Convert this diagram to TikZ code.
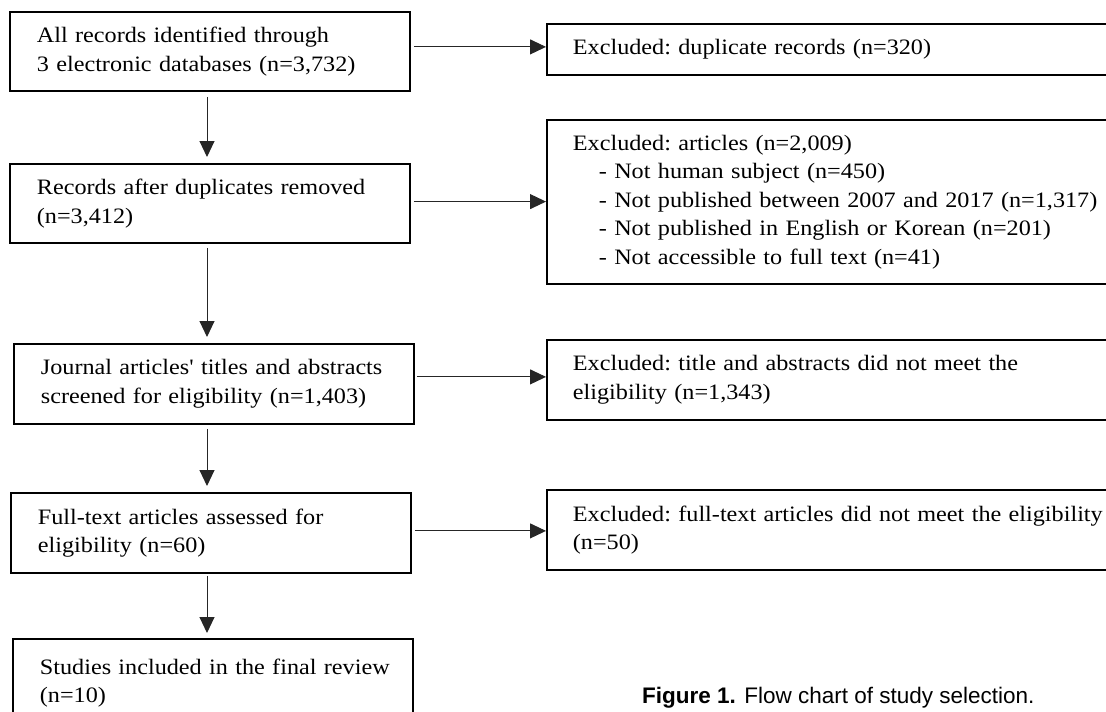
\documentclass[tikz,border=0pt]{standalone}
\usepackage{fontspec}
\setmainfont{Liberation Serif}[FakeStretch=1.1,Ligatures=TeXOff]
\newfontfamily\capfont{Liberation Sans}
\usetikzlibrary{arrows.meta,calc}
\newcommand\oneline[1]{\mbox{#1}}
\begin{document}
\begin{tikzpicture}[x=1pt,y=-1pt,
  box/.style={draw=black, line width=1.8pt, anchor=north west, align=left,
    inner xsep=27pt, inner ysep=0pt, font=\fontsize{22}{28.5}\selectfont\frenchspacing},
  lbox/.style={box, text width=346pt},
  rbox/.style={box, inner xsep=26pt, text width=560pt},
  arr/.style={draw=black!85, line width=1pt, -{Triangle[length=16pt,width=15pt]}},
  capt/.style={anchor=base west, inner sep=0pt, font=\capfont\fontsize{22.5}{27}\selectfont}]
\useasboundingbox (0,0) rectangle (1106,712);
\clip (0,0) rectangle (1106,712);
\coordinate (col) at (207,0);
% left column
\node[lbox, minimum height=79pt] (b1) at (9,11) {\oneline{All records identified through}\\\oneline{3 electronic databases (n=3,732)}};
\node[lbox, minimum height=79pt] (b2) at (9,163) {\oneline{Records after duplicates removed}\\\oneline{(n=3,412)}};
\node[lbox, minimum height=80pt] (b3) at (13,343) {\oneline{Journal articles' titles and abstracts}\\\oneline{screened for eligibility (n=1,403)}};
\node[lbox, minimum height=80pt] (b4) at (10,492) {\oneline{Full-text articles assessed for}\\\oneline{eligibility (n=60)}};
\node[lbox, minimum height=88pt] (b5) at (12,638) {\oneline{Studies included in the final review}\\\oneline{(n=10)}};
% right column
\node[rbox, minimum height=51pt] (r1) at (546,23) {\oneline{Excluded: duplicate records (n=320)}};
\node[rbox, minimum height=164pt] (r2) at (546,119) {\oneline{Excluded: articles (n=2,009)}\\
\oneline{\hspace*{26pt}- Not human subject (n=450)}\\
\oneline{\hspace*{26pt}- Not published between 2007 and 2017 (n=1,317)}\\
\oneline{\hspace*{26pt}- Not published in English or Korean (n=201)}\\
\oneline{\hspace*{26pt}- Not accessible to full text (n=41)}};
\node[rbox, minimum height=80pt] (r3) at (546,339) {\oneline{Excluded: title and abstracts did not meet the}\\\oneline{eligibility (n=1,343)}};
\node[rbox, minimum height=80pt] (r4) at (546,489) {\oneline{Excluded: full-text articles did not meet the eligibility}\\\oneline{(n=50)}};
% caption
\node[capt] (cap) at (642,703) {\textbf{Figure 1.} Flow chart of study selection.};
% vertical arrows
\draw[arr] ($(b1.south -| col)+(0,5)$) -- ($(b2.north -| col)+(0,-6)$);
\draw[arr] ($(b2.south -| col)+(0,4)$) -- ($(b3.north -| col)+(0,-6)$);
\draw[arr] ($(b3.south -| col)+(0,4)$) -- ($(b4.north -| col)+(0,-6)$);
\draw[arr] ($(b4.south -| col)+(0,2)$) -- ($(b5.north -| col)+(0,-5)$);
% horizontal arrows
\draw[arr] ($(b1.east)+(3,-4.5)$) -- ($(b1.east -| r1.west)+(0,-4.5)$);
\draw[arr] ($(b2.east)+(3,-1.8)$) -- ($(b2.east -| r2.west)+(0,-1.8)$);
\draw[arr] ($(b3.east)+(2,-7)$) -- ($(b3.east -| r3.west)+(0,-7)$);
\draw[arr] ($(b4.east)+(3,-2)$) -- ($(b4.east -| r4.west)+(0,-2)$);
\end{tikzpicture}
\end{document}
